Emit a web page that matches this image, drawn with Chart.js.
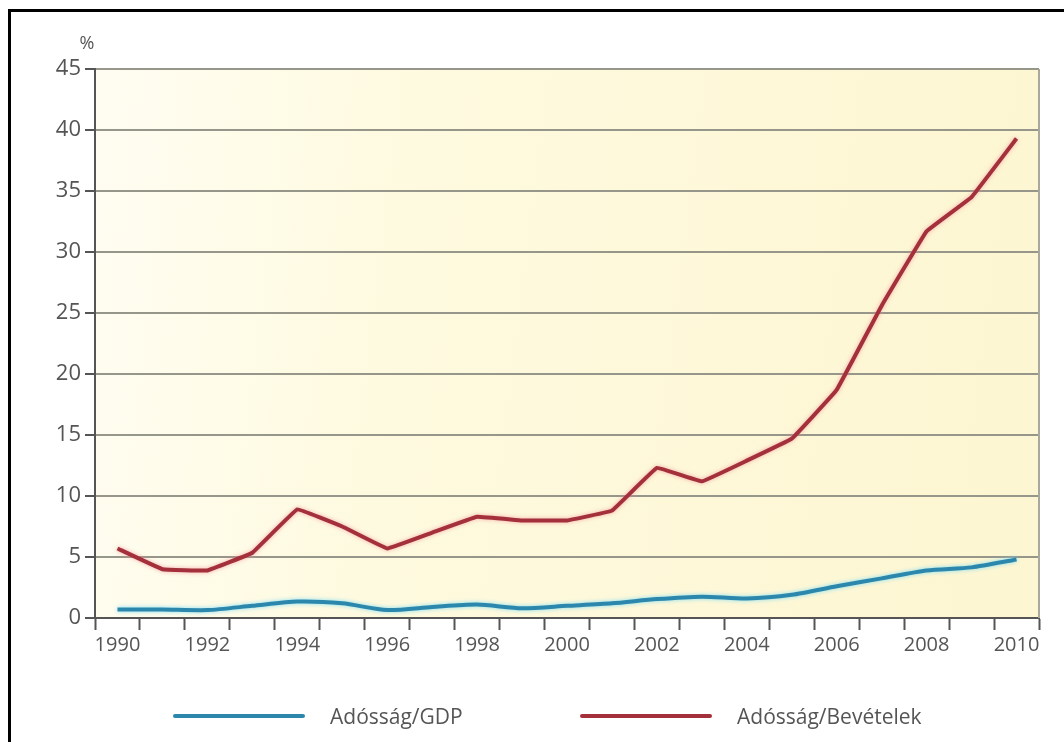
<!DOCTYPE html>
<html lang="hu">
<head>
    <meta charset="UTF-8">
    <title>Adósság/GDP és Adósság/Bevételek</title>
    <style>
        html, body {
            margin: 0;
            padding: 0;
            background: #fff;
        }
        body {
            width: 1064px;
            height: 742px;
            position: relative;
            overflow: hidden;
            font-family: "Open Sans", sans-serif;
        }
        /* fekete keret bal és felső széle */
        .keret {
            position: absolute;
            left: 8px;
            top: 9px;
            right: -20px;
            bottom: -20px;
            border-left: 3px solid #000;
            border-top: 3px solid #000;
        }
        .grafikon {
            position: absolute;
            left: 0;
            top: 0;
            width: 1064px;
            height: 742px;
        }
        .jel-elem {
            position: absolute;
            top: 702px;
            height: 28px;
            display: flex;
            align-items: center;
            color: #555;
            font-size: 21px;
        }
        .jel-vonal {
            width: 132px;
            height: 4px;
            margin-right: 25px;
            border-radius: 2px;
        }
    </style>
</head>
<body>
<div class="keret"></div>
<div class="grafikon"><canvas id="abra"></canvas></div>
<div id="jelmagyarazat"></div>

<script src="https://cdn.jsdelivr.net/npm/chart.js"></script>
<script>
    // adatok
    const evek = ['1990', '1991', '1992', '1993', '1994', '1995', '1996', '1997', '1998', '1999', '2000',
                  '2001', '2002', '2003', '2004', '2005', '2006', '2007', '2008', '2009', '2010'];
    const adossagGdp = [0.7, 0.7, 0.65, 1.0, 1.35, 1.2, 0.65, 0.9, 1.1, 0.8, 1.0,
                        1.2, 1.55, 1.75, 1.6, 1.9, 2.6, 3.25, 3.9, 4.15, 4.8];
    const adossagBevetelek = [5.7, 4.0, 3.9, 5.35, 8.9, 7.5, 5.7, 7.0, 8.3, 8.0, 8.0,
                              8.8, 12.3, 11.2, 12.9, 14.7, 18.7, 25.6, 31.7, 34.5, 39.3];
    const yMin = 0, yMax = 45, yLepes = 5;

    const kekSzin = '#2c87ad';
    const vorosSzin = '#a3303a';
    const betu = '"Open Sans", sans-serif';

    // sárgás háttér a rajzterületen, jobb oldali szegély, "%" felirat
    const hatterPlugin = {
        id: 'hatter',
        beforeDraw(chart) {
            const { ctx, chartArea: a } = chart;
            const g = ctx.createLinearGradient(a.left, a.top, a.right, a.top + 120);
            g.addColorStop(0, '#fffdf2');
            g.addColorStop(0.35, '#fefadf');
            g.addColorStop(1, '#fdf6d2');
            ctx.save();
            ctx.fillStyle = g;
            ctx.fillRect(a.left, a.top, a.right - a.left, a.bottom - a.top);
            ctx.restore();
        },
        afterDraw(chart) {
            const { ctx, chartArea: a } = chart;
            ctx.save();
            ctx.strokeStyle = '#a9a89c';
            ctx.lineWidth = 2;
            ctx.beginPath();
            ctx.moveTo(a.right, a.top);
            ctx.lineTo(a.right, a.bottom);
            ctx.stroke();
            ctx.fillStyle = '#555';
            ctx.font = '18px ' + betu;
            ctx.textAlign = 'center';
            ctx.textBaseline = 'middle';
            ctx.fillText('%', a.left - 8, a.top - 25);
            ctx.restore();
        }
    };

    // halvány derengés a vonalak körül
    const fenyPlugin = {
        id: 'feny',
        beforeDatasetDraw(chart, args) {
            const ctx = chart.ctx;
            ctx.save();
            ctx.shadowColor = args.index === 0 ? 'rgba(120,220,245,0.9)' : 'rgba(240,140,150,0.7)';
            ctx.shadowBlur = 4;
        },
        afterDatasetDraw(chart) {
            chart.ctx.restore();
        }
    };

    const abra = new Chart(document.getElementById('abra').getContext('2d'), {
        type: 'line',
        data: {
            labels: evek,
            datasets: [
                {
                    label: 'Adósság/GDP',
                    data: adossagGdp,
                    borderColor: kekSzin,
                    borderWidth: 4,
                    pointRadius: 0,
                    tension: 0.25,
                    fill: false
                },
                {
                    label: 'Adósság/Bevételek',
                    data: adossagBevetelek,
                    borderColor: vorosSzin,
                    borderWidth: 4,
                    pointRadius: 0,
                    tension: 0.05,
                    fill: false
                }
            ]
        },
        options: {
            responsive: true,
            maintainAspectRatio: false,
            animation: false,
            layout: {
                padding: { left: 0, top: 69, right: 25, bottom: 84 }
            },
            plugins: {
                legend: { display: false },
                tooltip: { enabled: false }
            },
            scales: {
                x: {
                    offset: true,
                    afterFit(scale) { scale.height = 40; },
                    grid: {
                        offset: true,
                        drawOnChartArea: false,
                        drawTicks: true,
                        tickLength: 12,
                        tickColor: '#555',
                        tickWidth: 2
                    },
                    border: { color: '#555', width: 2 },
                    ticks: {
                        autoSkip: false,
                        maxRotation: 0,
                        padding: 3,
                        color: '#555',
                        font: { family: betu, size: 20 },
                        callback: (v, i) => (i % 2 === 0 ? evek[i] : '')
                    }
                },
                y: {
                    min: yMin,
                    max: yMax,
                    afterFit(scale) { scale.width = 95; },
                    grid: {
                        color: '#97968a',
                        lineWidth: 2,
                        drawTicks: true,
                        tickLength: 10,
                        tickColor: '#555',
                        tickWidth: 2
                    },
                    border: { color: '#555', width: 2 },
                    ticks: {
                        stepSize: yLepes,
                        padding: 4,
                        color: '#555',
                        font: { family: betu, size: 22 }
                    }
                }
            }
        },
        plugins: [hatterPlugin, fenyPlugin]
    });

    // jelmagyarázat az adatsorokból
    const helyek = [173, 580];
    const jel = document.getElementById('jelmagyarazat');
    abra.data.datasets.forEach((ds, i) => {
        const elem = document.createElement('div');
        elem.className = 'jel-elem';
        elem.style.left = helyek[i] + 'px';
        elem.innerHTML = `<span class="jel-vonal" style="background:${ds.borderColor}"></span><span>${ds.label}</span>`;
        jel.appendChild(elem);
    });
</script>
</body>
</html>
